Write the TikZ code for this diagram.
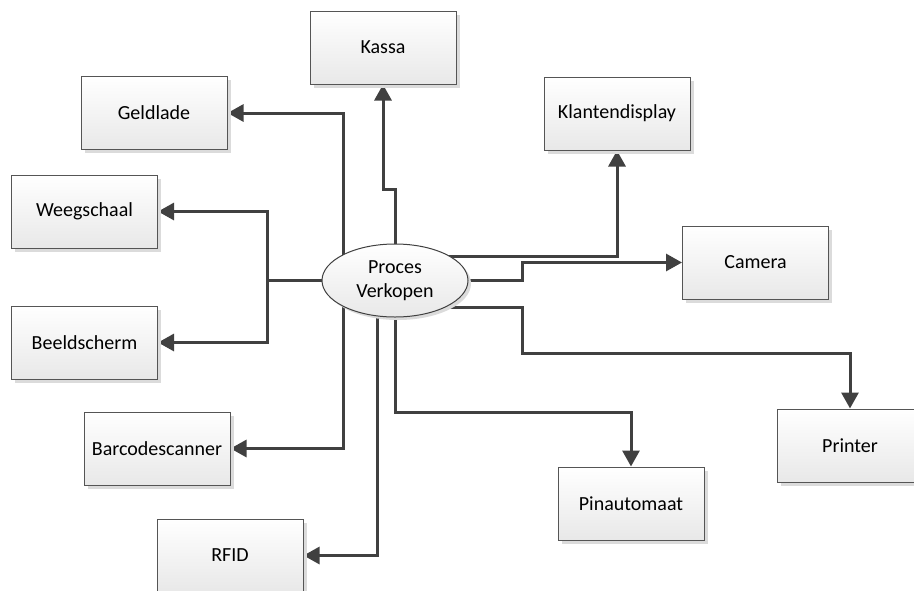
\documentclass[tikz,border=0pt]{standalone}
\usepackage{fontspec}
\setmainfont{Carlito}
\usetikzlibrary{arrows.meta,calc,shapes.geometric,shadows,backgrounds}
\definecolor{lin}{HTML}{404040}
\definecolor{brd}{HTML}{555555}
\begin{document}
\begin{tikzpicture}[x=1pt,y=-1pt,
  box/.style={rectangle,draw=brd,line width=1pt,top color=white,bottom color=black!9,
    minimum width=146pt,minimum height=73pt,inner sep=0pt,
    general shadow={fill=black!14,shadow xshift=3.5pt,shadow yshift=-3.5pt},
    font=\fontsize{20}{24}\selectfont},
  proc/.style={ellipse,draw=lin,line width=1pt,top color=white,bottom color=black!9,
    minimum width=146pt,minimum height=73pt,inner sep=0pt,align=center,
    general shadow={fill=black!14,shadow xshift=3pt,shadow yshift=-3pt},
    font=\fontsize{20}{24}\selectfont},
  arr/.style={draw=lin,line width=3pt,-{Triangle[length=16pt,width=17pt]}}]
\useasboundingbox (0,0) rectangle (914,590);
\clip (0,0) rectangle (914,590);
\node[proc] (P) at (395,280.5) {Proces\\Verkopen};
\node[box] (K) at (383,47.5) {Kassa};
\node[box] (G) at (154,113) {Geldlade};
\node[box] (W) at (84.5,211.5) {Weegschaal};
\node[box] (Bs) at (84.5,342.5) {Beeldscherm};
\node[box] (Bc) at (157,448.5) {Barcodescanner};
\node[box] (R) at (230,555.5) {RFID};
\node[box] (Kd) at (617,113.5) {Klantendisplay};
\node[box] (C) at (755.5,262.5) {Camera};
\node[box] (Pr) at (850,445.5) {Printer};
\node[box] (Pa) at (631,503.5) {Pinautomaat};
\begin{scope}[on background layer]
\draw[arr] (P.center) -- ++(0,-91.5) -| (K.south);
\draw[arr] ($(P.center)+(-52,0)$) |- (G.east);
\draw[arr] (P.center) -- ++(-128,0) coordinate (jl) |- (W.east);
\draw[arr] (jl) |- (Bs.east);
\draw[arr] ($(P.center)+(-52,0)$) |- (Bc.east);
\draw[arr] ($(P.center)+(-18,0)$) |- (R.east);
\draw[arr] (P.center) -- ++(0,131.5) -| (Pa.north);
\draw[arr] ($(P.center)+(0,-24.5)$) -| (Kd.south);
\draw[arr] (P.center) -- ++(127,0) |- (C.west);
\draw[arr] ($(P.center)+(0,26.5)$) -- ++(127,0) -- ++(0,46) -| (Pr.north);
\end{scope}
\end{tikzpicture}
\end{document}
